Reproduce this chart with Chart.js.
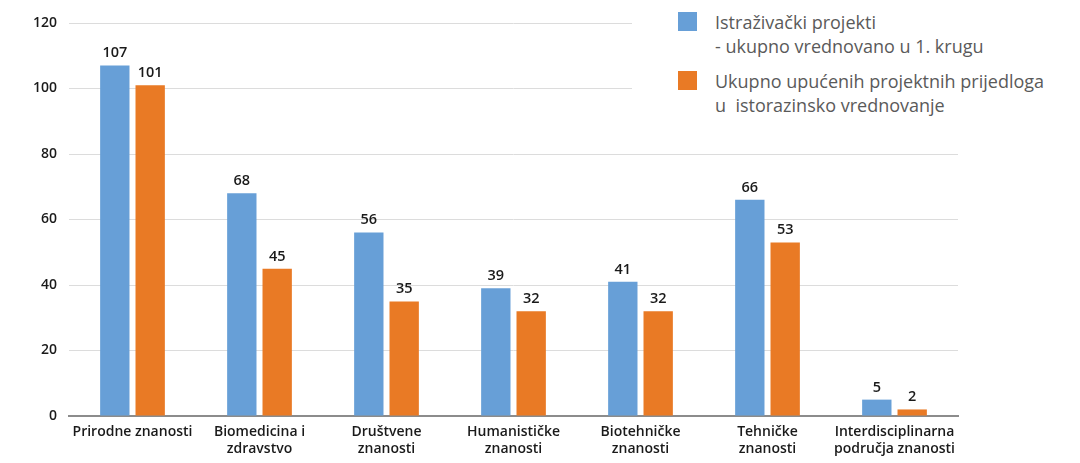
<!DOCTYPE html>
<html>
<head>
<meta charset="utf-8">
<script src="https://cdn.jsdelivr.net/npm/chart.js@4"></script>
<style>
  html, body { margin: 0; padding: 0; background: #fff; }
  #wrap { position: relative; width: 1080px; height: 463px; }
  #legend {
    position: absolute; left: 632px; top: 0; width: 448px; height: 124px;
    background: #fff; font-family: "Open Sans", sans-serif; font-size: 18px;
    color: #5a5a5a; line-height: 24px; white-space: pre;
  }
  .item { position: absolute; left: 46px; padding-left: 37px; }
  .sw { position: absolute; left: 0; top: 2px; width: 19px; height: 19px; }
</style>
</head>
<body>
<div id="wrap">
  <canvas id="c" width="1080" height="463"></canvas>
  <div id="legend"></div>
</div>
<script>
const categories = [
  ["Prirodne znanosti"],
  ["Biomedicina i", "zdravstvo"],
  ["Društvene", "znanosti"],
  ["Humanističke", "znanosti"],
  ["Biotehničke", "znanosti"],
  ["Tehničke", "znanosti"],
  ["Interdisciplinarna", "područja znanosti"]
];
const evaluated = [107, 68, 56, 39, 41, 66, 5];
const forwarded = [101, 45, 35, 32, 32, 53, 2];
const seriesNames = [
  ["Istraživački projekti", "- ukupno vrednovano u 1. krugu"],
  ["Ukupno upućenih projektnih prijedloga", "u  istorazinsko vrednovanje"]
];
const colors = ["#679fd7", "#e97a25"];

// legend
const leg = document.getElementById("legend");
seriesNames.forEach((lines, i) => {
  const d = document.createElement("div");
  d.className = "item";
  d.style.top = (i === 0 ? 10 : 69) + "px";
  const sw = document.createElement("span");
  sw.className = "sw";
  sw.style.background = colors[i];
  d.appendChild(sw);
  d.appendChild(document.createTextNode(lines.join("\n")));
  leg.appendChild(d);
});

const valueLabels = {
  id: "valueLabels",
  afterDatasetsDraw(chart) {
    const ctx = chart.ctx;
    ctx.save();
    ctx.font = "600 14.5px 'Open Sans', sans-serif";
    ctx.fillStyle = "#1a1a1a";
    ctx.textAlign = "center";
    ctx.textBaseline = "bottom";
    chart.data.datasets.forEach((ds, di) => {
      chart.getDatasetMeta(di).data.forEach((bar, i) => {
        ctx.fillText(ds.data[i], bar.x, bar.y - 5);
      });
    });
    ctx.restore();
  }
};

new Chart(document.getElementById("c"), {
  type: "bar",
  data: {
    labels: categories,
    datasets: [
      { label: seriesNames[0].join(" "), data: evaluated, backgroundColor: colors[0] },
      { label: seriesNames[1].join(" "), data: forwarded, backgroundColor: colors[1] }
    ]
  },
  options: {
    responsive: false,
    animation: false,
    events: [],
    categoryPercentage: 0.557,
    barPercentage: 0.83,
    layout: { padding: { top: 23, right: 122, left: 0, bottom: 0 } },
    plugins: { legend: { display: false }, tooltip: { enabled: false } },
    scales: {
      x: {
        grid: { display: false, drawTicks: false },
        border: { color: "#8c8c8c", width: 2 },
        ticks: {
          color: "#1a1a1a",
          font: { family: "'Open Sans', sans-serif", size: 14, weight: "600" },
          padding: 8,
          maxRotation: 0,
          autoSkip: false
        },
        afterFit(s) { s.height = 47; }
      },
      y: {
        min: 0, max: 120,
        grid: { color: "#dcdcdc", lineWidth: 1, drawTicks: false },
        border: { display: false },
        ticks: {
          stepSize: 20,
          color: "#1a1a1a",
          font: { family: "'Open Sans', sans-serif", size: 14, weight: "600" },
          padding: 12
        },
        afterFit(s) { s.width = 69; }
      }
    }
  },
  plugins: [valueLabels]
});
</script>
</body>
</html>
